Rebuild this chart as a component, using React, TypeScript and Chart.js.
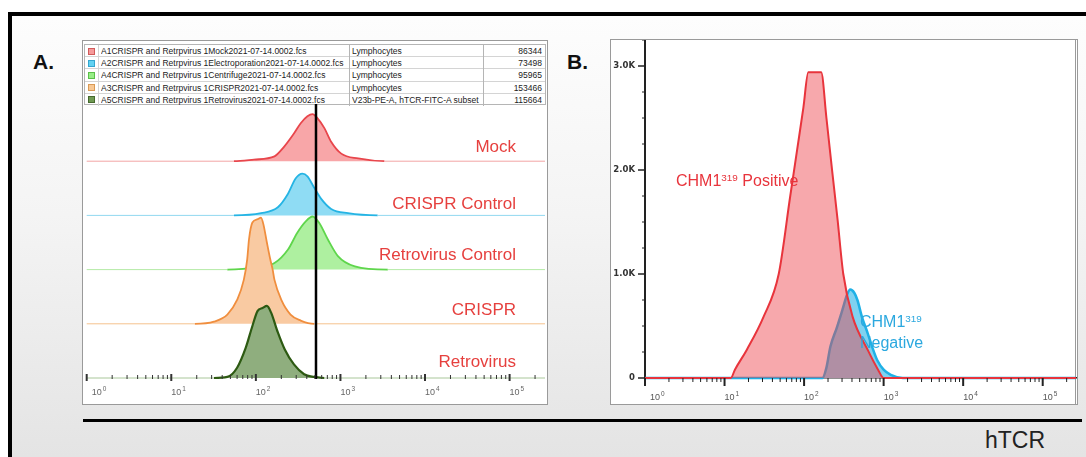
import { useEffect, useRef } from 'react';
import { Chart, registerables } from 'chart.js';

Chart.register(...registerables);

const FONT = '"Liberation Sans", Arial, Helvetica, sans-serif';

// ---------- shared axis ----------
const xMin = 1;
const xMax = 262144;
const decadeValues = [1, 10, 100, 1000, 10000, 100000];
const decadeExponents = ['0', '1', '2', '3', '4', '5'];
const minorMultipliers = [1, 2, 3, 4, 5, 6, 7, 8, 9];

// ---------- Panel A (ridge histograms, % of lane height) ----------
const laneNames = ['Mock', 'CRISPR Control', 'Retrovirus Control', 'CRISPR', 'Retrovirus'];
const mockX = [55, 95, 166, 214, 282, 339, 407, 468, 537, 646, 776, 1023, 1622, 3311];
const mockY = [0, 3, 9, 26, 51, 70, 83, 87, 79, 61, 36, 14, 5, 0];
const crisprCtrlX = [55, 115, 182, 240, 295, 355, 407, 490, 589, 776, 1230, 2754];
const crisprCtrlY = [0, 4, 15, 40, 68, 77, 72, 51, 31, 12, 4, 0];
const retroCtrlX = [46, 115, 166, 240, 309, 389, 468, 562, 708, 933, 1479, 3631];
const retroCtrlY = [0, 6, 12, 37, 68, 89, 98, 86, 56, 25, 6, 0];
const crisprX = [19, 32, 46, 60, 72, 79, 83, 91, 105, 115, 123, 135, 148, 158, 166, 200, 257, 339, 490];
const crisprY = [0, 4, 17, 44, 81, 119, 156, 187, 193, 196, 183, 150, 119, 100, 81, 44, 17, 6, 0];
const retroX = [32, 46, 60, 76, 91, 105, 120, 135, 151, 182, 219, 282, 372, 490, 646];
const retroY = [0, 2, 19, 56, 96, 124, 129, 133, 121, 84, 53, 25, 7, 2, 0];
const gateValue = 514;

// legend table
const legendFiles = [
  'A1CRISPR and Retrpvirus 1Mock2021-07-14.0002.fcs',
  'A2CRISPR and Retrpvirus 1Electroporation2021-07-14.0002.fcs',
  'A4CRISPR and Retrpvirus 1Centrifuge2021-07-14.0002.fcs',
  'A3CRISPR and Retrpvirus 1CRISPR2021-07-14.0002.fcs',
  'A5CRISPR and Retrpvirus 1Retrovirus2021-07-14.0002.fcs',
];
const legendGates = ['Lymphocytes', 'Lymphocytes', 'Lymphocytes', 'Lymphocytes', 'V23b-PE-A, hTCR-FITC-A subset'];
const legendCounts = ['86344', '73498', '95965', '153466', '115664'];

// ---------- Panel B ----------
const posX = [12, 13.5, 19, 31, 48, 67, 82, 98, 113, 164, 191, 227, 263, 311, 407, 631, 851, 1000];
const posY = [0, 80, 270, 590, 1000, 1750, 2200, 2600, 2940, 2940, 2500, 1970, 1530, 1000, 590, 270, 80, 0];
const negX = [170, 191, 214, 257, 302, 347, 380, 427, 468, 537, 631, 724, 832, 1000, 1230, 1738];
const negY = [0, 100, 300, 480, 650, 800, 850, 820, 750, 580, 430, 290, 170, 80, 30, 0];
const bYMax = 3250;
const bYStep = 250;
const bYMajors = [0, 1000, 2000, 3000];
const bYLabels = ['0', '1.0K', '2.0K', '3.0K'];

// ---------- styles ----------
const laneSeries = [
  { x: mockX, y: mockY },
  { x: crisprCtrlX, y: crisprCtrlY },
  { x: retroCtrlX, y: retroCtrlY },
  { x: crisprX, y: crisprY },
  { x: retroX, y: retroY },
];
const laneStyles = [
  { line: '#e8464c', fill: '#f8a6a8', base: '#f2a4a4', width: 1.8 },
  { line: '#25b4e4', fill: '#8fdcf4', base: '#92d8f0', width: 1.8 },
  { line: '#5fd64c', fill: '#aef0a0', base: '#b4eaa6', width: 1.8 },
  { line: '#f08e3e', fill: '#f9caa2', base: '#f5c28e', width: 1.8 },
  { line: '#2d5a12', fill: '#8fae7e', base: '#a9c79a', width: 2.2 },
];
const legendSwatch = [
  ['#f59a9a', '#d05a5a'],
  ['#62d2f2', '#34a6cf'],
  ['#97ee86', '#5bbf4a'],
  ['#f8c894', '#d99a55'],
  ['#6f9a52', '#46692e'],
];
const laneLabelTops = [138, 195, 246, 301, 353];
const LANE = 100;

const isDecade = (v: number) => decadeValues.includes(v);
function logTicks(max: number) {
  const out: any[] = [];
  for (const d of decadeValues) for (const m of minorMultipliers) {
    const v = d * m;
    if (v <= max) out.push({ value: v });
  }
  return out;
}

function drawPow(ctx: any, x: number, y: number, exp: string, size: number, color: string) {
  ctx.fillStyle = color;
  ctx.textAlign = 'left';
  ctx.textBaseline = 'alphabetic';
  ctx.font = `${size}px ${FONT}`;
  ctx.fillText('10', x, y);
  const w = ctx.measureText('10').width;
  ctx.font = `${size * 0.72}px ${FONT}`;
  ctx.fillText(exp, x + w + 1, y - size * 0.45);
}

const pluginA = {
  id: 'panelADecor',
  afterDatasetsDraw(chart: any) {
    const { ctx, chartArea } = chart;
    const x = chart.scales.x.getPixelForValue(gateValue);
    ctx.save();
    ctx.strokeStyle = '#000';
    ctx.lineWidth = 2.5;
    ctx.beginPath();
    ctx.moveTo(x, chartArea.top - 3);
    ctx.lineTo(x, chartArea.bottom + 1);
    ctx.stroke();
    ctx.restore();
  },
  afterDraw(chart: any) {
    const { ctx, chartArea } = chart;
    const sx = chart.scales.x;
    const y0 = chartArea.bottom;
    ctx.save();
    ctx.strokeStyle = '#333';
    sx.ticks.forEach((t: any) => {
      const px = sx.getPixelForValue(t.value);
      const major = isDecade(t.value);
      ctx.lineWidth = major ? 2 : 1;
      ctx.beginPath();
      ctx.moveTo(px, y0 + (major ? 3 : 1));
      ctx.lineTo(px, y0 - (major ? 4 : 3));
      ctx.stroke();
    });
    decadeValues.forEach((v, i) => {
      drawPow(ctx, sx.getPixelForValue(v) + (i === 0 ? 5 : 0), y0 + 17, decadeExponents[i], 9, '#666');
    });
    ctx.restore();
  },
};

const pluginB = {
  id: 'panelBDecor',
  afterDraw(chart: any) {
    const { ctx, chartArea } = chart;
    const sx = chart.scales.x;
    const sy = chart.scales.y;
    const y0 = chartArea.bottom;
    const x0 = chartArea.left;
    ctx.save();
    ctx.strokeStyle = '#222';
    sx.ticks.forEach((t: any) => {
      const px = sx.getPixelForValue(t.value);
      const major = isDecade(t.value);
      ctx.lineWidth = major ? 2 : 1;
      ctx.beginPath();
      ctx.moveTo(px, y0);
      ctx.lineTo(px, y0 + (major ? 8 : 4));
      ctx.stroke();
    });
    decadeValues.forEach((v, i) => {
      drawPow(ctx, sx.getPixelForValue(v) + (i === 0 ? 5 : 0), y0 + 22, decadeExponents[i], 9, '#555');
    });
    sy.ticks.forEach((t: any) => {
      const py = sy.getPixelForValue(t.value);
      const major = bYMajors.includes(t.value);
      ctx.lineWidth = major ? 1.5 : 1;
      ctx.beginPath();
      ctx.moveTo(x0, py);
      ctx.lineTo(x0 - (major ? 7 : 3), py);
      ctx.stroke();
    });
    ctx.fillStyle = '#333';
    ctx.font = 'bold 8.5px "DejaVu Sans", sans-serif';
    ctx.textAlign = 'right';
    ctx.textBaseline = 'middle';
    bYMajors.forEach((v, i) => {
      ctx.fillText(bYLabels[i], x0 - 10, sy.getPixelForValue(v));
    });
    ctx.restore();
  },
};

function buildA(): any {
  const n = laneSeries.length;
  const datasets = laneSeries.map((s, i) => {
    const offset = (n - 1 - i) * LANE;
    const st = laneStyles[i];
    const pts = [
      { x: xMin, y: offset },
      ...s.x.map((x, j) => ({ x, y: offset + s.y[j] })),
      { x: xMax, y: offset },
    ];
    const flat = (c: any) => c.p0.parsed.y === offset && c.p1.parsed.y === offset;
    return {
      label: laneNames[i],
      data: pts,
      borderColor: st.line,
      backgroundColor: st.fill,
      borderWidth: st.width,
      fill: { value: offset },
      pointRadius: 0,
      cubicInterpolationMode: 'monotone',
      order: n - 1 - i,
      clip: 4,
      segment: {
        borderColor: (c: any) => (flat(c) ? st.base : undefined),
        borderWidth: (c: any) => (flat(c) ? 1 : undefined),
      },
    };
  });
  return {
    type: 'line',
    data: { datasets },
    options: {
      animation: false,
      responsive: false,
      events: [],
      layout: { padding: { left: 3.7, right: 2, top: 66, bottom: 0 } },
      plugins: { legend: { display: false }, tooltip: { enabled: false } },
      scales: {
        x: {
          type: 'logarithmic',
          min: xMin,
          max: xMax,
          grid: { display: false },
          border: { display: false },
          ticks: { display: false },
          afterBuildTicks: (s: any) => { s.ticks = logTicks(xMax); },
          afterFit: (s: any) => { s.height = 26; s.paddingLeft = 0; s.paddingRight = 0; },
        },
        y: { type: 'linear', min: 0, max: n * LANE, display: false },
      },
    },
    plugins: [pluginA],
  };
}

function buildB(): any {
  const mk = (xs: number[], ys: number[]) => [
    { x: xMin, y: 0 },
    ...xs.map((x, j) => ({ x, y: ys[j] })),
    { x: xMax, y: 0 },
  ];
  return {
    type: 'line',
    data: {
      datasets: [
        {
          label: 'CHM1 319 Positive',
          data: mk(posX, posY),
          borderColor: '#e8343c',
          backgroundColor: 'rgba(238,62,72,0.45)',
          borderWidth: 2,
          fill: 'origin',
          pointRadius: 0,
          cubicInterpolationMode: 'monotone',
          order: 0,
          clip: 4,
        },
        {
          label: 'CHM1 319 Negative',
          data: mk(negX, negY),
          borderColor: '#1fb1e6',
          backgroundColor: '#7fd2f0',
          borderWidth: 2.5,
          fill: 'origin',
          pointRadius: 0,
          cubicInterpolationMode: 'monotone',
          order: 1,
          clip: 4,
        },
      ],
    },
    options: {
      animation: false,
      responsive: false,
      events: [],
      layout: { padding: { left: 0, right: 1, top: 0, bottom: 0 } },
      plugins: { legend: { display: false }, tooltip: { enabled: false } },
      scales: {
        x: {
          type: 'logarithmic',
          min: xMin,
          max: xMax,
          grid: { display: false },
          border: { display: true, color: '#222', width: 1.5 },
          ticks: { display: false },
          afterBuildTicks: (s: any) => { s.ticks = logTicks(xMax); },
          afterFit: (s: any) => { s.height = 26; s.paddingLeft = 0; s.paddingRight = 0; },
        },
        y: {
          type: 'linear',
          min: 0,
          max: bYMax,
          grid: { display: false },
          border: { display: true, color: '#222', width: 2 },
          ticks: { display: false },
          afterBuildTicks: (s: any) => {
            const t: any[] = [];
            for (let v = 0; v <= bYMax; v += bYStep) t.push({ value: v });
            s.ticks = t;
          },
          afterFit: (s: any) => { s.width = 34; s.paddingTop = 0; s.paddingBottom = 0; },
        },
      },
    },
    plugins: [pluginB],
  };
}

const abs = (o: any) => ({ position: 'absolute', ...o });

function Sup({ children }: any) {
  return <span style={{ fontSize: '0.62em', position: 'relative', top: '-0.5em' }}>{children}</span>;
}

export default function App() {
  const aRef = useRef<HTMLCanvasElement>(null);
  const bRef = useRef<HTMLCanvasElement>(null);
  useEffect(() => {
    const ca = new Chart(aRef.current as any, buildA());
    const cb = new Chart(bRef.current as any, buildB());
    return () => { ca.destroy(); cb.destroy(); };
  }, []);

  const rowH = 12.2;
  return (
    <div style={{ position: 'fixed', left: 0, top: 0, width: 1086, height: 457, overflow: 'hidden', background: '#fff', fontFamily: FONT }}>
      <div style={abs({ left: 8, top: 12, width: 1078, height: 445, boxSizing: 'border-box', borderTop: '4px solid #000', borderLeft: '4px solid #000', background: 'linear-gradient(to bottom, #fdfdfd 0%, #f4f4f4 45%, #e4e4e4 100%)' })} />

      <div style={abs({ left: 33, top: 50, fontSize: 21, fontWeight: 'bold', color: '#111', lineHeight: '24px' })}>A.</div>
      <div style={abs({ left: 567, top: 50, fontSize: 21, fontWeight: 'bold', color: '#111', lineHeight: '24px' })}>B.</div>

      {/* Panel A box */}
      <div style={abs({ left: 82, top: 40, width: 466, height: 365, boxSizing: 'border-box', border: '1px solid #9a9a9a', background: '#fff' })} />
      {/* legend table */}
      <div style={abs({ left: 84, top: 44, width: 462, height: rowH * 5, boxSizing: 'border-box', border: '1px solid #b5b5b5', background: '#fff', fontSize: 8.5, color: '#222' })}>
        {legendFiles.map((f, i) => (
          <div key={i} style={abs({ left: 0, top: i * rowH, width: 460, height: rowH, boxSizing: 'border-box', borderBottom: i < 4 ? '1px solid #d4d4d4' : 'none', lineHeight: `${rowH}px` })}>
            <div style={abs({ left: 3, top: 2.5, width: 7, height: 7, boxSizing: 'border-box', background: legendSwatch[i][0], border: `1px solid ${legendSwatch[i][1]}` })} />
            <div style={abs({ left: 13, top: 0, width: 1, height: rowH, background: '#d4d4d4' })} />
            <div style={abs({ left: 16, top: 0, width: 248, overflow: 'hidden', whiteSpace: 'nowrap' })}>{f}</div>
            <div style={abs({ left: 264, top: 0, width: 1, height: rowH, background: '#b5b5b5' })} />
            <div style={abs({ left: 267, top: 0, width: 130, overflow: 'hidden', whiteSpace: 'nowrap' })}>{legendGates[i]}</div>
            <div style={abs({ left: 398, top: 0, width: 1, height: rowH, background: '#b5b5b5' })} />
            <div style={abs({ left: 399, top: 0, width: 58, textAlign: 'right' })}>{legendCounts[i]}</div>
          </div>
        ))}
      </div>
      <canvas ref={aRef} width={464} height={363} style={abs({ left: 83, top: 41, width: 464, height: 363 })} />
      {laneNames.map((n, i) => (
        <div key={n} style={abs({ right: 570, top: laneLabelTops[i], fontSize: 17, lineHeight: '17px', color: '#e6403e', whiteSpace: 'nowrap' })}>{n}</div>
      ))}

      {/* Panel B box */}
      <div style={abs({ left: 610, top: 39, width: 468, height: 366, boxSizing: 'border-box', border: '1px solid #9a9a9a', borderRight: '3px double #9a9a9a', background: '#fff' })} />
      <canvas ref={bRef} width={466} height={364} style={abs({ left: 611, top: 40, width: 466, height: 364 })} />
      <div style={abs({ left: 676, top: 173, fontSize: 16, lineHeight: '16px', color: '#e8343c', whiteSpace: 'nowrap' })}>CHM1<Sup>319</Sup> Positive</div>
      <div style={abs({ left: 860, top: 312, fontSize: 16, lineHeight: '19px', color: '#2ba8df', whiteSpace: 'nowrap' })}>
        CHM1<Sup>319</Sup><br />Negative
      </div>

      {/* bottom axis bar */}
      <div style={abs({ left: 83, top: 419, width: 999, height: 3, background: '#000' })} />
      <div style={abs({ left: 985, top: 427, fontSize: 23, lineHeight: '26px', color: '#222' })}>hTCR</div>
    </div>
  );
}
